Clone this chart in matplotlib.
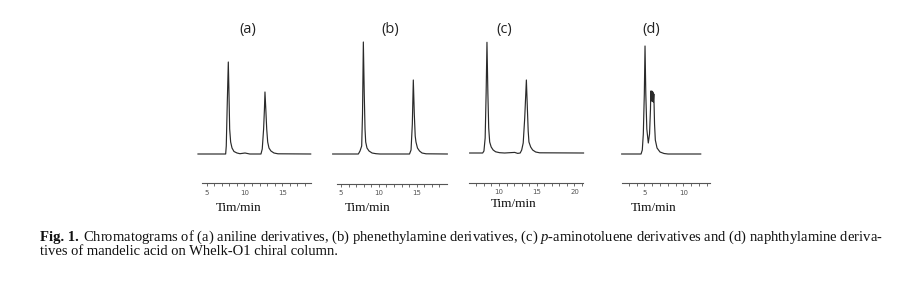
import matplotlib.pyplot as plt
from matplotlib.ticker import MultipleLocator

# retention time (min) and detector signal (a.u.)
t_a = [3.85, 7.51, 7.59, 7.72, 7.86, 7.95, 8.04, 8.17, 8.35, 8.61, 9.01, 9.40,
       10.07, 10.70, 12.18, 12.35, 12.53, 12.64, 12.71, 12.82, 12.94, 13.07,
       13.24, 13.50, 13.90, 14.43, 18.76]
s_a = [0, 0, 8, 50, 92, 60, 25, 12, 6, 2.5, 1, 0.3,
       1.0, 0, 0, 5, 25, 45, 62, 45, 25, 12,
       6, 3, 1, 0.2, 0]

t_b = [3.90, 7.29, 7.51, 7.73, 7.84, 7.95, 8.07, 8.17, 8.26, 8.43, 8.70, 9.10,
       9.62, 10.15, 14.05, 14.25, 14.42, 14.55, 14.68, 14.80, 14.90, 15.10,
       15.37, 15.70, 16.23, 19.04]
s_b = [0, 0, 3, 8, 40, 112, 60, 25, 12, 6, 3, 1,
       0.3, 0, 0, 4, 30, 74, 40, 18, 12, 6,
       3, 1, 0.2, 0]

t_c = [6.12, 7.84, 8.01, 8.17, 8.30, 8.41, 8.53, 8.64, 8.77, 8.97, 9.23, 9.56,
       10.09, 10.75, 12.08, 12.48, 12.81, 13.01, 13.21, 13.41, 13.63, 13.76,
       13.87, 13.97, 14.20, 14.46, 14.86, 15.39, 21.20]
s_c = [0, 0, 2, 15, 60, 110.7, 60, 25, 11, 6, 3, 1.2,
       0.3, 0, 0.6, -0.4, 0, 3, 10, 35, 73, 45,
       22, 11, 6, 3, 1, 0.2, 0]

t_d = [2.10, 4.58, 4.74, 4.87, 5.00, 5.09, 5.19, 5.32, 5.51, 5.67, 5.79, 5.83,
       5.90, 5.96, 6.03, 6.09, 6.15, 6.22, 6.31, 6.41, 6.63, 7.01, 7.53, 8.04,
       12.23]
s_d = [0, 0, 4, 20, 60, 108, 60, 25, 11, 20, 45, 63,
       53, 63, 53, 62, 52, 60, 30, 14, 6, 2, 0.5, 0,
       0]

times = [t_a, t_b, t_c, t_d]
signals = [s_a, s_b, s_c, s_d]
panel_labels = ['(a)', '(b)', '(c)', '(d)']
x_ranges = [(4.34, 18.76), (4.43, 18.96), (6.07, 21.17), (2.10, 13.42)]
xlabel = 'Tim/min'
caption_head = 'Fig. 1.'
caption_1 = (r'Chromatograms of (a) aniline derivatives, '
             r'(b) phenethylamine derivatives, (c) $\mathit{p}$-aminotoluene '
             r'derivatives and (d) naphthylamine deriva-')
caption_2 = 'tives of mandelic acid on Whelk-O1 chiral column.'

# layout in pixels of the 909x282 picture
W, H = 909, 282
ax_left = [201.7, 336.7, 469.3, 621.7]
ax_right = [310.7, 446.7, 583.3, 710.0]
ax_line_y = [183.3, 184.0, 182.7, 183.3]
base_y = [154.0, 154.0, 153.0, 154.0]
top_y = 35
label_x = [248, 390, 504, 651]
xlabel_x = [239, 368, 514, 654]
xlabel_y = [208, 208, 204, 208]

plt.rcParams['mathtext.fontset'] = 'custom'
plt.rcParams['mathtext.rm'] = 'Liberation Serif'
plt.rcParams['mathtext.it'] = 'Liberation Serif:italic'
plt.rcParams['mathtext.bf'] = 'Liberation Serif:bold'

fig = plt.figure(figsize=(W / 100, H / 100), dpi=100)
fig.patch.set_facecolor('white')

for i in range(4):
    ax = fig.add_axes([ax_left[i] / W, 1 - ax_line_y[i] / H,
                       (ax_right[i] - ax_left[i]) / W, (ax_line_y[i] - top_y) / H])
    ax.plot(times[i], signals[i], color='#2a2a2a', lw=0.85, clip_on=False)
    ax.set_xlim(x_ranges[i])
    ax.set_ylim(-(ax_line_y[i] - base_y[i]), base_y[i] - top_y)
    ax.patch.set_alpha(0)
    for side in ['top', 'left', 'right']:
        ax.spines[side].set_visible(False)
    ax.spines['bottom'].set_color('#555555')
    ax.spines['bottom'].set_linewidth(0.8)
    ax.set_yticks([])
    ax.xaxis.set_major_locator(MultipleLocator(5))
    ax.xaxis.set_minor_locator(MultipleLocator(1))
    ax.tick_params(axis='x', which='major', length=2.5, width=0.6, color='#555555',
                   labelsize=5, labelcolor='#555555', pad=2)
    ax.tick_params(axis='x', which='minor', length=1.8, width=0.6, color='#555555')

    fig.text(label_x[i] / W, 1 - 29 / H, panel_labels[i], ha='center', va='center',
             fontsize=10.5, family='Open Sans', color='#222222')
    fig.text(xlabel_x[i] / W, 1 - xlabel_y[i] / H, xlabel, ha='center', va='center',
             fontsize=9.5, family='Liberation Serif', color='#111111')

# caption: bold head, then the rest of line 1 fitted to end near x=885
size = 9.2
renderer = fig.canvas.get_renderer()
head = fig.text(40 / W, 1 - 241 / H, caption_head, ha='left', va='baseline',
                fontsize=size, fontweight='bold', family='Liberation Serif',
                color='#111111')
head_w = head.get_window_extent(renderer).width
gap = 0.3 * size * 100 / 72
x1 = 40 + head_w + gap
cap1 = fig.text(x1 / W, 1 - 241 / H, caption_1, ha='left', va='baseline',
                fontsize=size, family='Liberation Serif', color='#111111')
w1 = cap1.get_window_extent(renderer).width
scale = (885 - 40) / (head_w + gap + w1)
size = size * scale
head.set_fontsize(size)
head_w = head.get_window_extent(renderer).width
gap = 0.3 * size * 100 / 72
cap1.set_fontsize(size)
cap1.set_x((40 + head_w + gap) / W)
fig.text(40 / W, 1 - 255 / H, caption_2, ha='left', va='baseline',
         fontsize=size, family='Liberation Serif', color='#111111')

plt.savefig('out.png', dpi=100, facecolor='white')
